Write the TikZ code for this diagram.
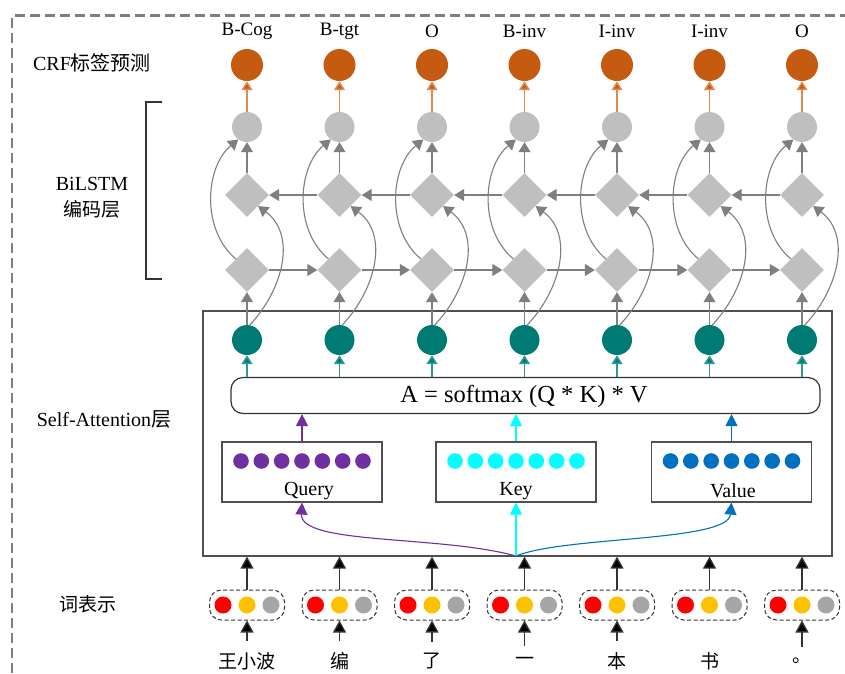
\documentclass[tikz,border=0pt]{standalone}
\usepackage{fontspec}
\setmainfont{Liberation Serif}
\newfontfamily\cjk{Noto Sans CJK SC}
\usetikzlibrary{arrows.meta,shapes.geometric,calc}
\definecolor{orng}{HTML}{C55A11}
\definecolor{orngl}{HTML}{E08A50}
\definecolor{lgrey}{HTML}{BFBFBF}
\definecolor{agrey}{HTML}{7F7F7F}
\definecolor{tealc}{HTML}{007B73}
\definecolor{teall}{HTML}{2C9A92}
\definecolor{purp}{HTML}{7030A0}
\definecolor{cyanc}{HTML}{00FFFF}
\definecolor{bluec}{HTML}{0070C0}
\definecolor{redc}{HTML}{FF0000}
\definecolor{yelc}{HTML}{FFC000}
\definecolor{dgrey}{HTML}{A6A6A6}
\definecolor{boxc}{HTML}{505050}
\tikzset{
  orangedot/.style={circle,fill=orng,minimum size=32pt,inner sep=0},
  greydot/.style={circle,fill=lgrey,minimum size=30pt,inner sep=0},
  tealdot/.style={circle,fill=tealc,minimum size=30pt,inner sep=0},
  dmd/.style={diamond,fill=lgrey,minimum width=44pt,minimum height=44pt,inner sep=0,aspect=1},
  garrow/.style={agrey,line width=1.1pt,-{Triangle[width=12pt,length=10pt]}},
  oarrow/.style={orngl,line width=1.5pt,-{Triangle[width=11pt,length=9pt,fill=orng]}},
  tarrow/.style={teall,line width=1.5pt,-{Triangle[width=11pt,length=9pt,fill=tealc]}},
  karrow/.style={black!80,line width=1.3pt,-{Triangle[width=13pt,length=12pt,fill=black]}},
  parrow/.style={purp,line width=1.1pt,-{Triangle[width=12pt,length=12pt]}},
  carrow/.style={cyanc,line width=1.1pt,-{Triangle[width=12pt,length=12pt]}},
  barrow/.style={bluec,line width=1.1pt,-{Triangle[width=12pt,length=12pt]}},
  qkvbox/.style={draw=boxc,line width=1.2pt,minimum width=160pt,minimum height=60pt,inner sep=0},
  repbox/.style={draw=black!80,dashed,dash pattern=on 4pt off 2.5pt,line width=1pt,rounded corners=12pt,minimum width=75pt,minimum height=30pt,inner sep=0},
  lbl/.style={font=\fontsize{20}{22}\selectfont,inner sep=0},
  toplbl/.style={font=\fontsize{19}{21}\selectfont,inner sep=0},
  qkvlbl/.style={font=\fontsize{20}{22}\selectfont,inner sep=0},
  wordlbl/.style={font=\cjk\fontsize{19}{21}\selectfont,inner sep=1pt}
}
\begin{document}
\begin{tikzpicture}[x=1pt,y=-1pt]
\useasboundingbox (0,0) rectangle (845,673);
\fill[white] (0,0) rectangle (845,673);
% outer dashed frame
\draw[agrey,line width=2.4pt,dash pattern=on 10pt off 5pt] (12,673) -- (12,15.5) -- (845,15.5);
% left labels
\node[lbl] (crf) at (92,63) {CRF{\cjk 标签预测}};
\node[lbl] (bil) at (92,184) {BiLSTM};
\node[lbl,font=\cjk\fontsize{19}{21}\selectfont] (bil2) at (92,209) {编码层};
\node[lbl] (sal) at (104,419) {Self-Attention{\cjk 层}};
\node[lbl,font=\cjk\fontsize{19}{21}\selectfont] (ci) at (88,604) {词表示};
% bracket
\draw[black!80,line width=1.2pt] (162,102) -- (146,102) -- (146,279) -- (162,279);
% attention box
\node[draw=boxc,line width=1.2pt,minimum width=629pt,minimum height=245pt,inner sep=0] (sabox) at (517.5,433.5) {};
\node[draw=black!80,line width=1.2pt,rounded corners=12pt,minimum width=589pt,minimum height=36pt,inner sep=0] (att) at (525.5,395.5) {};
\node[inner sep=0,font=\fontsize{24.5}{26}\selectfont] (atttxt) at (524,396) {A = softmax (Q * K) * V};
% Q K V boxes
\node[qkvbox] (qbox) at (302,472) {};
\node[qkvbox] (kbox) at (516,472) {};
\node[qkvbox] (vbox) at (731.5,472) {};
\foreach \j in {0,...,6}{
  \fill[purp] ($(qbox)+(-61+20.33*\j,-11)$) circle (7.8pt);
  \fill[cyanc] ($(kbox)+(-61+20.33*\j,-11)$) circle (7.8pt);
  \fill[bluec] ($(vbox)+(-61+20.33*\j,-11)$) circle (7.8pt);
}
\node[qkvlbl] (ql) at (309,491) {Query};
\node[qkvlbl] (kl) at (516,491) {Key};
\node[qkvlbl] (vl) at (733,491) {Value};
\draw[parrow] (qbox.north) -- (qbox.north |- att.south);
\draw[carrow] (kbox.north) -- (kbox.north |- att.south);
\draw[barrow] (vbox.north) -- (vbox.north |- att.south);
\coordinate (src) at (516,556);
\draw[parrow] (src) .. controls (440,535) and (300,545) .. (qbox.south);
\draw[carrow] (src) -- (kbox.south);
\draw[barrow] (src) .. controls (565,536) and (728,542) .. (vbox.south);
% columns
\foreach \i/\lab/\w in {1/B-Cog/王小波,2/B-tgt/编,3/O/了,4/B-inv/一,5/I-inv/本,6/I-inv/书,7/O/。}{
  \pgfmathsetmacro{\cx}{247+(\i-1)*92.5}
  \node[toplbl] (lab\i) at (\cx,31) {\lab};
  \node[orangedot] (o\i) at (\cx,65) {};
  \node[greydot] (g\i) at (\cx,127) {};
  \node[dmd] (u\i) at (\cx,195) {};
  \node[dmd] (l\i) at (\cx,270) {};
  \node[tealdot] (t\i) at (\cx,340) {};
  \node[repbox] (rep\i) at (\cx,605) {};
  \fill[redc] ($(rep\i)+(-24,0)$) circle (8.5pt);
  \fill[yelc] ($(rep\i)+(0,0)$) circle (8.5pt);
  \fill[dgrey] ($(rep\i)+(24,0)$) circle (8.5pt);
  \node[wordlbl] (w\i) at (\cx,661) {\w};
  \draw[oarrow] (g\i) -- (o\i);
  \draw[garrow] (u\i) -- (g\i);
  \draw[garrow] (t\i) -- (l\i);
  \draw[tarrow] (t\i |- att.north) -- (t\i);
  \draw[karrow] (rep\i.north) -- (rep\i.north |- sabox.south);
  \draw[garrow] (l\i.north west) .. controls ($(l\i)+(-46,-40)$) and ($(g\i)+(-42,40)$) .. (g\i.235);
  \draw[garrow] (t\i.80) .. controls ($(t\i)+(36,-50)$) and ($(u\i)+(50,40)$) .. (u\i.south east);
}
\foreach \i/\j in {1/2,2/3,3/4,4/5,5/6,6/7}{
  \draw[garrow] (l\i) -- (l\j);
  \draw[garrow] (u\j) -- (u\i);
}
\foreach \i in {1,2,3,4,5,7}{
  \draw[karrow] ([yshift=10pt]w\i.north) -- (rep\i.south);
}
\end{tikzpicture}
\end{document}
